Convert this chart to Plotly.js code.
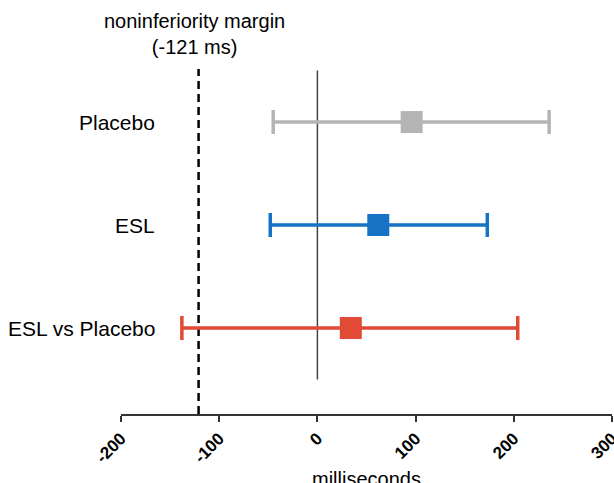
<!DOCTYPE html>
<html>
<head>
<meta charset="utf-8">
<script src="https://cdn.plot.ly/plotly-3.0.1.min.js"></script>
<style>html,body{margin:0;padding:0;background:#fff;}#chart{width:614px;height:483px;}</style>
</head>
<body>
<div id="chart"></div>
<script>
var categories = ["Placebo", "ESL", "ESL vs Placebo"];
var positions = [2, 1, 0];
var estimates = [96, 62, 34];
var lower = [-45, -48, -138];
var upper = [236, 173, 204];
var colors = ["#b4b4b4", "#1572c4", "#e14a35"];
var margin = -121;
var xTicks = [-200, -100, 0, 100, 200, 300];

var traces = categories.map(function (c, i) {
  return {
    type: "scatter",
    mode: "markers",
    x: [estimates[i]],
    y: [positions[i]],
    marker: { symbol: "square", size: 22, color: colors[i] },
    error_x: {
      type: "data",
      symmetric: false,
      array: [upper[i] - estimates[i]],
      arrayminus: [estimates[i] - lower[i]],
      color: colors[i],
      thickness: 3.5,
      width: 12
    },
    hoverinfo: "skip",
    showlegend: false
  };
});

var annotations = categories.map(function (c, i) {
  return {
    x: -163, y: positions[i], xref: "x", yref: "y",
    text: c, showarrow: false, xanchor: "right", yanchor: "middle",
    font: { family: "Liberation Sans, Arial, sans-serif", size: 21, color: "#000" }
  };
});
annotations.push({
  x: margin - 4, y: 1, xref: "x", yref: "paper", yanchor: "middle", yshift: 35,
  text: "noninferiority margin<br>(" + margin + " ms)", showarrow: false,
  font: { family: "Liberation Sans, Arial, sans-serif", size: 20, color: "#000" }
});
annotations.push({
  x: 50, y: 0, xref: "x", yref: "paper", yanchor: "middle", yshift: -65,
  text: "milliseconds", showarrow: false,
  font: { family: "Liberation Sans, Arial, sans-serif", size: 20, color: "#000" }
});

var layout = {
  width: 614, height: 483,
  margin: { l: 121, r: 2, t: 69, b: 69 },
  paper_bgcolor: "#fff", plot_bgcolor: "#fff",
  xaxis: {
    range: [-200, 300], tickvals: xTicks, ticktext: xTicks.map(String),
    tickangle: -45, showgrid: false, zeroline: false,
    showline: true, linecolor: "#333", linewidth: 2,
    ticks: "outside", ticklen: 6, tickwidth: 2, tickcolor: "#333",
    ticklabeloverflow: "allow",
    tickfont: { family: "Liberation Sans, Arial, sans-serif", size: 17, color: "#000", weight: "bold" },
    fixedrange: true
  },
  yaxis: {
    range: [-0.835, 2.515], showgrid: false, zeroline: false, showline: false,
    showticklabels: false, ticks: "", fixedrange: true
  },
  shapes: [
    { type: "line", xref: "x", yref: "y", x0: 0, x1: 0, y0: -0.5, y1: 2.5,
      line: { color: "#444", width: 1.5 }, layer: "below" },
    { type: "line", xref: "x", yref: "paper", x0: margin, x1: margin, y0: 0, y1: 1,
      line: { color: "#000", width: 2.5, dash: "8px,5px" }, layer: "below" }
  ],
  annotations: annotations
};

Plotly.newPlot("chart", traces, layout, { displayModeBar: false, staticPlot: true });
</script>
</body>
</html>
